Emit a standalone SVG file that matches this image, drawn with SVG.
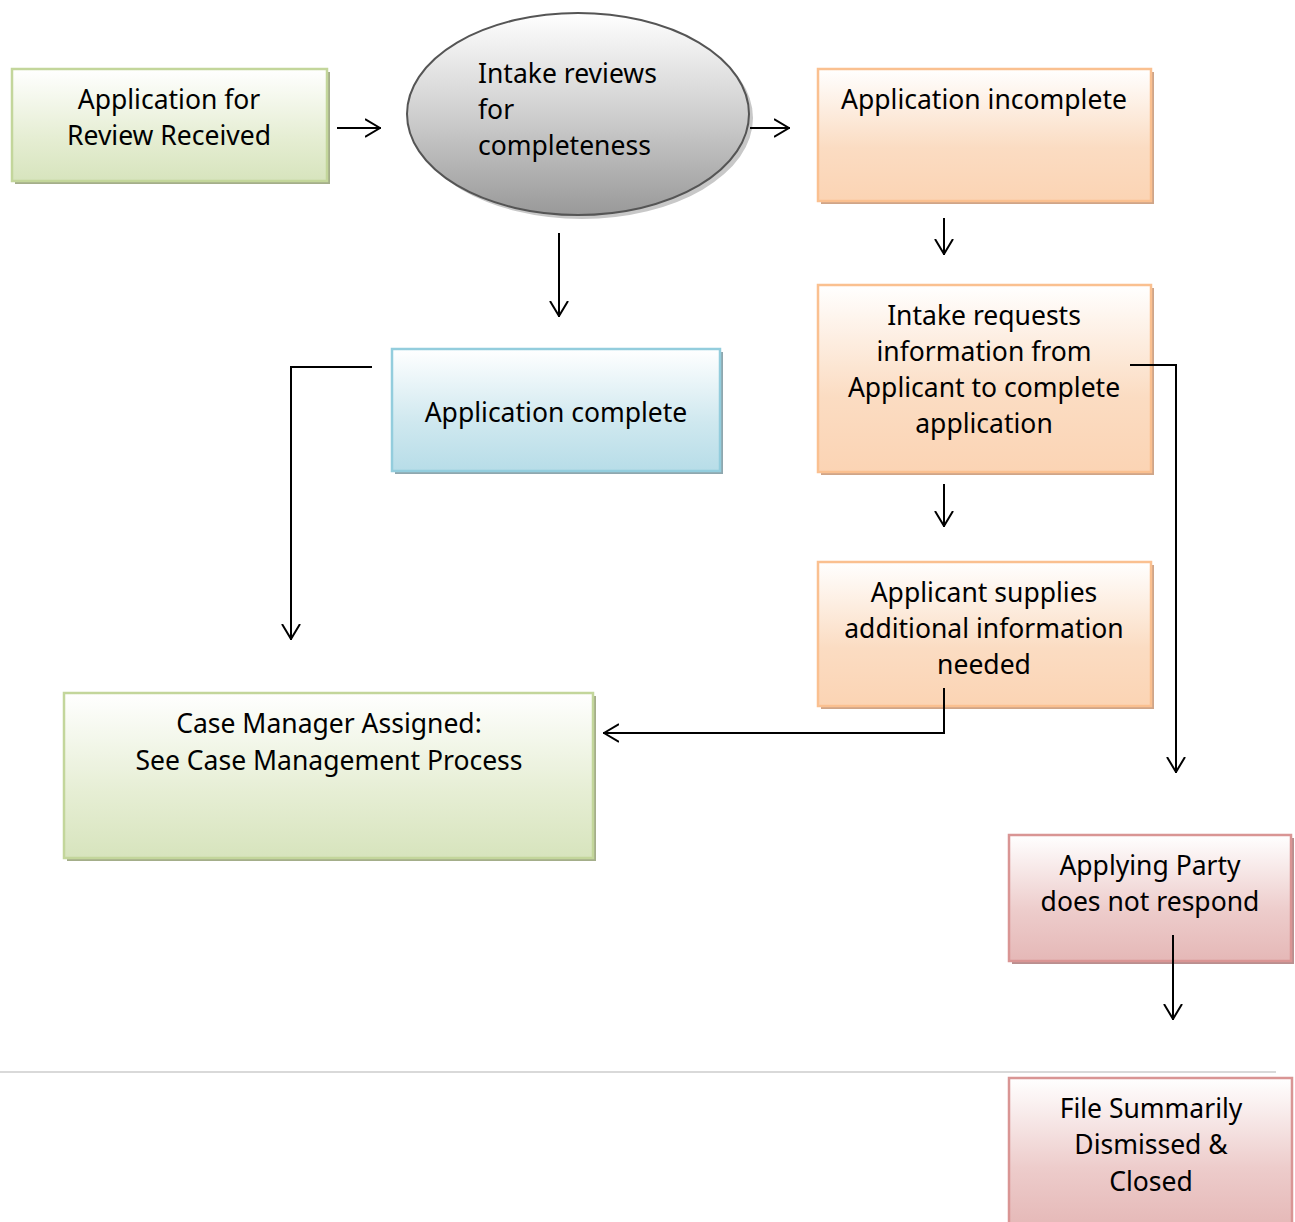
<svg xmlns="http://www.w3.org/2000/svg" width="1295" height="1222" viewBox="0 0 1295 1222">
<defs>
<linearGradient id="gGreen" x1="0" y1="0" x2="0" y2="1"><stop offset="0" stop-color="#ffffff"/><stop offset="0.6" stop-color="#e6eed4"/><stop offset="1" stop-color="#d7e4bd"/></linearGradient>
<linearGradient id="gOrange" x1="0" y1="0" x2="0" y2="1"><stop offset="0" stop-color="#ffffff"/><stop offset="0.6" stop-color="#fbdcc2"/><stop offset="1" stop-color="#fbd4b4"/></linearGradient>
<linearGradient id="gBlue" x1="0" y1="0" x2="0" y2="1"><stop offset="0" stop-color="#ffffff"/><stop offset="0.6" stop-color="#cfe8ef"/><stop offset="1" stop-color="#b7dde8"/></linearGradient>
<linearGradient id="gRed" x1="0" y1="0" x2="0" y2="1"><stop offset="0" stop-color="#ffffff"/><stop offset="0.6" stop-color="#edcccb"/><stop offset="1" stop-color="#e5b8b7"/></linearGradient>
<linearGradient id="gGray" x1="0" y1="0" x2="0" y2="1"><stop offset="0" stop-color="#ffffff"/><stop offset="0.5" stop-color="#cfcfcf"/><stop offset="1" stop-color="#999999"/></linearGradient>
<marker id="arr" viewBox="0 0 16 20" refX="16" refY="10" markerWidth="16" markerHeight="20" markerUnits="userSpaceOnUse" orient="auto">
<path d="M0,1 L15,10 L0,19" fill="none" stroke="#000" stroke-width="2"/>
</marker>
</defs>
<style>
text{font-family:"Noto Sans","Open Sans","DejaVu Sans",sans-serif;font-size:26.5px;fill:#000}
.c{text-anchor:middle}
.green{fill:url(#gGreen);stroke:#c3d69b;stroke-width:2.5}
.orange{fill:url(#gOrange);stroke:#fac090;stroke-width:2.5}
.blue{fill:url(#gBlue);stroke:#93cddd;stroke-width:2.5}
.red{fill:url(#gRed);stroke:#d99594;stroke-width:2.5}
.shG{fill:#a4ae8a}
.shO{fill:#cfa588}
.shB{fill:#8fa7ae}
.shR{fill:#b98f8f}
.conn path{fill:none;stroke:#000;stroke-width:2;marker-end:url(#arr)}
</style>
<line x1="0" y1="1072" x2="1276" y2="1072" stroke="#d9d9d9" stroke-width="2"/>
<g id="n-received">
<rect class="shG" x="15" y="72" width="315" height="112"/>
<rect class="green" x="12" y="69" width="315" height="112"/>
<text class="c" x="169" y="109">Application for</text>
<text class="c" x="169" y="145">Review Received</text>
</g>
<g id="n-review">
<ellipse cx="582" cy="118" rx="171" ry="101" fill="#c8c8c8"/>
<ellipse cx="578" cy="114" rx="171" ry="101" fill="url(#gGray)" stroke="#555" stroke-width="2"/>
<text x="478" y="83">Intake reviews</text>
<text x="478" y="119">for</text>
<text x="478" y="155">completeness</text>
</g>
<g id="n-incomplete">
<rect class="shO" x="821" y="72" width="333" height="132"/>
<rect class="orange" x="818" y="69" width="333" height="132"/>
<text class="c" x="984" y="109">Application incomplete</text>
</g>
<g id="n-requests">
<rect class="shO" x="821" y="288" width="333" height="187"/>
<rect class="orange" x="818" y="285" width="333" height="187"/>
<text class="c" x="984" y="325">Intake requests</text>
<text class="c" x="984" y="361">information from</text>
<text class="c" x="984" y="397">Applicant to complete</text>
<text class="c" x="984" y="433">application</text>
</g>
<g id="n-supplies">
<rect class="shO" x="821" y="565" width="333" height="144"/>
<rect class="orange" x="818" y="562" width="333" height="144"/>
<text class="c" x="984" y="602">Applicant supplies</text>
<text class="c" x="984" y="638">additional information</text>
<text class="c" x="984" y="674">needed</text>
</g>
<g id="n-complete">
<rect class="shB" x="395" y="352" width="328" height="122"/>
<rect class="blue" x="392" y="349" width="328" height="122"/>
<text class="c" x="556" y="422">Application complete</text>
</g>
<g id="n-casemanager">
<rect class="shG" x="67" y="696" width="529" height="165"/>
<rect class="green" x="64" y="693" width="529" height="165"/>
<text class="c" x="329" y="733">Case Manager Assigned:</text>
<text class="c" x="329" y="770">See Case Management Process</text>
</g>
<g id="n-noresponse">
<rect class="shR" x="1012" y="838" width="282" height="126"/>
<rect class="red" x="1009" y="835" width="282" height="126"/>
<text class="c" x="1150" y="875">Applying Party</text>
<text class="c" x="1150" y="911">does not respond</text>
</g>
<g id="n-dismissed">
<rect class="red" x="1009" y="1078" width="283" height="150"/>
<text class="c" x="1151" y="1118">File Summarily</text>
<text class="c" x="1151" y="1154">Dismissed &amp;</text>
<text class="c" x="1151" y="1191">Closed</text>
</g>
<g id="connectors" class="conn">
<path d="M337,128 L381,128"/>
<path d="M750,128 L790,128"/>
<path d="M944,218 L944,255"/>
<path d="M559,233 L559,317"/>
<path d="M372,367 L291,367 L291,640"/>
<path d="M1130,365 L1176,365 L1176,773"/>
<path d="M944,484 L944,527"/>
<path d="M944,688 L944,733 L603,733"/>
<path d="M1173,935 L1173,1020"/>
</g>
</svg>
